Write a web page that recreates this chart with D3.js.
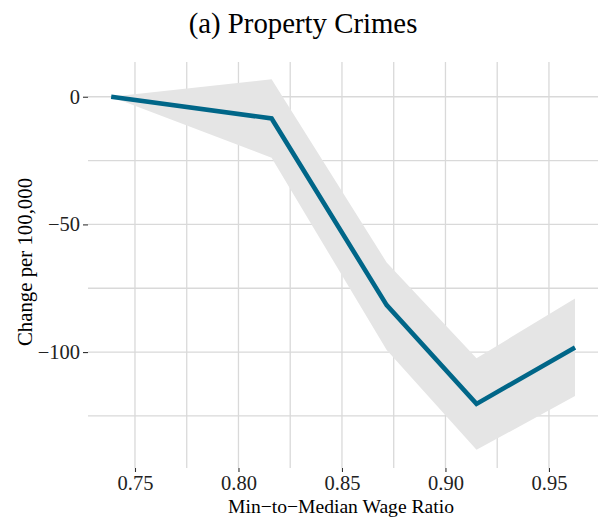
<!DOCTYPE html>
<html>
<head>
<meta charset="utf-8">
<script src="https://cdn.jsdelivr.net/npm/d3@7"></script>
<style>
  html, body { margin: 0; padding: 0; background: #fff; }
</style>
</head>
<body>
<svg id="chart" width="599" height="518"></svg>
<script>
// Data
const ratio    = [0.7385, 0.816, 0.8716, 0.915, 0.9626];
const estimate = [0, -8.5, -81.6, -120.3, -98.2];
const lower    = [0, -23.9, -99.2, -138.3, -117.2];
const upper    = [0, 6.8, -64.9, -102.4, -79.0];
const xTicks = [0.75, 0.80, 0.85, 0.90, 0.95];
const xMinor = [0.775, 0.825, 0.875, 0.925];
const yTicks = [0, -50, -100];
const yMinor = [-25, -75, -125];
const title = "(a) Property Crimes";
const xTitle = "Min\u2212to\u2212Median Wage Ratio";
const yTitle = "Change per 100,000";

const FONT = '"Liberation Serif", "Times New Roman", serif';
const data = ratio.map((r, i) => ({ x: r, y: estimate[i], lo: lower[i], hi: upper[i] }));

const svg = d3.select("#chart");
const W = 599, H = 518;
const m = { left: 88, right: 1, top: 62, bottom: 50 };
const pw = W - m.left - m.right, ph = H - m.top - m.bottom;

const x = d3.scaleLinear().domain([0.7273, 0.9737]).range([m.left, m.left + pw]);
const y = d3.scaleLinear().domain([-145.4, 13.6]).range([m.top + ph, m.top]);

const grid = svg.append("g");
const gridColor = "#d9d9d9";
xMinor.concat(xTicks).forEach(v => {
  grid.append("line").attr("x1", x(v)).attr("x2", x(v)).attr("y1", m.top).attr("y2", m.top + ph)
    .attr("stroke", gridColor).attr("stroke-width", 1.3);
});
yMinor.concat(yTicks).forEach(v => {
  grid.append("line").attr("y1", y(v)).attr("y2", y(v)).attr("x1", m.left).attr("x2", m.left + pw)
    .attr("stroke", gridColor).attr("stroke-width", 1.3);
});

// Ribbon
svg.append("path").datum(data)
  .attr("d", d3.area().x(d => x(d.x)).y0(d => y(d.lo)).y1(d => y(d.hi)))
  .attr("fill", "#e5e5e5");

// Line
svg.append("path").datum(data)
  .attr("d", d3.line().x(d => x(d.x)).y(d => y(d.y)))
  .attr("fill", "none").attr("stroke", "#006688").attr("stroke-width", 4.6)
  .attr("stroke-linejoin", "miter");

// Axes
const fmtY = v => (v < 0 ? "\u2212" + Math.abs(v) : String(v));
const xAxis = d3.axisBottom(x).tickValues(xTicks).tickFormat(d3.format(".2f")).tickSize(4).tickPadding(3);
const yAxis = d3.axisLeft(y).tickValues(yTicks).tickFormat(fmtY).tickSize(5).tickPadding(3);

const gx = svg.append("g").attr("transform", `translate(0,${m.top + ph})`).call(xAxis);
const gy = svg.append("g").attr("transform", `translate(${m.left},0)`).call(yAxis);
[gx, gy].forEach(g => {
  g.attr("font-family", FONT).attr("font-size", 20.5);
  g.select(".domain").remove();
  g.selectAll(".tick line").attr("stroke", "#333").attr("stroke-width", 1.1);
  g.selectAll(".tick text").attr("fill", "#222").attr("font-family", FONT).attr("font-size", 20.5);
});

// Titles
svg.append("text").attr("x", 303).attr("y", 33).attr("text-anchor", "middle")
  .attr("font-family", FONT).attr("font-size", 28.8).attr("fill", "#000").text(title);
svg.append("text").attr("x", m.left + pw / 2 - 2).attr("y", 513).attr("text-anchor", "middle")
  .attr("font-family", FONT).attr("font-size", 19.6).attr("fill", "#000").text(xTitle);
svg.append("text").attr("transform", `translate(31.5,${m.top + ph / 2 - 3}) rotate(-90)`)
  .attr("text-anchor", "middle").attr("font-family", FONT).attr("font-size", 20.8)
  .attr("fill", "#000").text(yTitle);
</script>
</body>
</html>
